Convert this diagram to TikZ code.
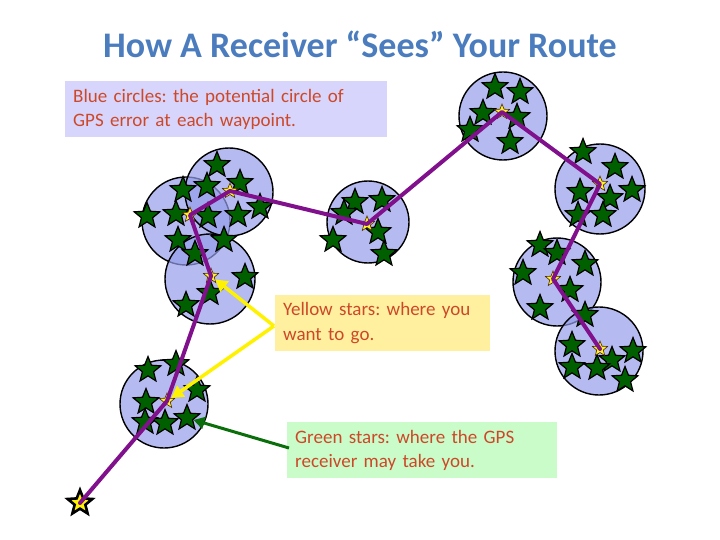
\documentclass[tikz,border=0pt]{standalone}
\usepackage{fontspec}
\setmainfont{Carlito}
\usetikzlibrary{shapes.geometric,arrows.meta}
\definecolor{titleblue}{RGB}{74,124,190}
\definecolor{txtred}{RGB}{205,72,40}
\definecolor{circfill}{RGB}{150,158,234}
\definecolor{gstarfill}{RGB}{0,96,0}
\definecolor{routepurple}{RGB}{128,16,140}
\definecolor{boxblue}{RGB}{215,213,252}
\definecolor{boxyellow}{RGB}{255,240,160}
\definecolor{boxgreen}{RGB}{202,252,202}
\definecolor{arrgreen}{RGB}{10,110,10}
\tikzset{
  errcirc/.style={draw=black, line width=1.4pt, fill=circfill, fill opacity=0.7},
  gstar/.style={star, star points=5, star point ratio=2.3, inner sep=0pt, minimum size=27pt,
    draw=black, line width=1.2pt, fill=gstarfill},
  ystar/.style={star, star points=5, star point ratio=2.3, inner sep=0pt, minimum size=16pt,
    draw=black!70!orange, line width=0.6pt, fill=yellow!85!white},
  startstar/.style={star, star points=5, star point ratio=2.3, inner sep=0pt, minimum size=26pt,
    draw=black, line width=2.6pt, fill=yellow},
  route/.style={draw=routepurple, line width=4pt, line join=round, line cap=round},
  infobox/.style={anchor=north west, align=left, inner xsep=8pt, inner ysep=0pt,
    text=txtred, font=\frenchspacing\fontsize{19}{24.5}\selectfont, minimum height=56pt},
  yarrow/.style={draw=yellow, line width=3.5pt, -{Triangle[length=12pt,width=13pt]}},
  garrow/.style={draw=arrgreen, line width=3pt, -{Triangle[length=11pt,width=12pt]}}
}
\begin{document}
\frenchspacing
\begin{tikzpicture}[x=1pt,y=-1pt]
\useasboundingbox (0,0) rectangle (720,540);
% title
\node[anchor=base, text=titleblue, font=\bfseries\fontsize{36}{40}\selectfont] (title) at (360,58)
  {How A Receiver “Sees” Your Route};
% error circles
\foreach \cx/\cy/\r [count=\i] in {164/404/44, 186/221/44, 229/192/44, 210/279/45, 368/222/41,
  503/116/44, 600/189/45, 557/282/44, 599/351/44}
  \node[errcirc, circle, minimum size=2*\r pt, inner sep=0pt] (c\i) at (\cx,\cy) {};
% green stars
\foreach \sx/\sy [count=\i] in {
  148/370, 176/364, 146/402, 197/390, 145/422, 165/423, 187/418,
  217/165, 183/190, 207/186, 240/183, 147/216, 176/214, 208/216, 238/215, 260/207,
  178/240, 195/254, 224/240, 245/277, 210/293, 186/305,
  355/202, 382/200, 344/213, 378/232, 333/240, 384/254,
  495/87, 520/92, 483/113, 517/117, 470/130, 510/142,
  583/152, 615/167, 580/192, 632/190, 610/198, 578/215, 603/215,
  540/245, 557/253, 585/264, 523/273, 570/290, 540/308,
  585/315, 572/345, 633/351, 612/360, 572/367, 597/368, 625/380}
  \node[gstar] (g\i) at (\sx,\sy) {};
% yellow stars (waypoints)
\node[startstar] (y0) at (80,503) {};
\foreach \wx/\wy [count=\i] in {167/401, 211/276, 190/215, 230/191, 367/224, 502/112, 600/184, 553/279, 600/349}
  \node[ystar] (y\i) at (\wx,\wy) {};
% route
\draw[route] (y0.center) -- (y1.center) -- (y2.center) -- (y3.center) -- (y4.center) -- (y5.center)
  -- (y6.center) -- (y7.center) -- (y8.center) -- (y9.center);
% boxes
\node[infobox, fill=boxblue, text width=306pt] (bbox) at (65,81)
  {Blue circles: the potential circle of\\GPS error at each waypoint.};
\node[infobox, fill=boxyellow, text width=199pt] (ybox) at (275,295)
  {Yellow stars: where you\\want to go.};
\node[infobox, fill=boxgreen, text width=254pt] (gbox) at (287,422)
  {Green stars: where the GPS\\receiver may take you.};
% arrows
\coordinate (ya) at (274,326);
\coordinate (ga) at (289,448);
\draw[yarrow] (ya) -- (y2);
\draw[yarrow] (ya) -- (y1);
\draw[garrow] (ga) -- (g7);
\end{tikzpicture}
\end{document}
